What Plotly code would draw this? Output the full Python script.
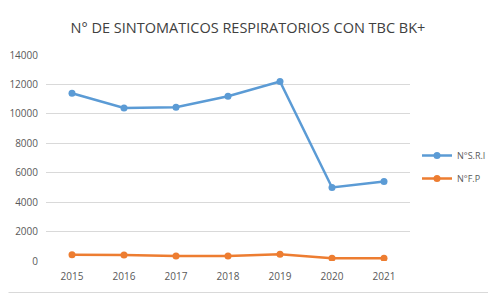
import plotly.graph_objects as go

years = ["2015", "2016", "2017", "2018", "2019", "2020", "2021"]
sri = [11400, 10400, 10450, 11200, 12200, 5000, 5400]
fp = [420, 410, 340, 340, 460, 190, 180]
y_ticks = [0, 2000, 4000, 6000, 8000, 10000, 12000, 14000]

OFF = 8  # page body margin
W, H = 500 - OFF, 300 - OFF
L, R, T, B = 46 - OFF, 90, 55 - OFF, 39
pw, ph = W - L - R, H - T - B

def px(x):
    return (x - OFF - L) / pw

def py(y):
    return (H - B - (y - OFF)) / ph

FONT = "Open Sans, sans-serif"

fig = go.Figure()
fig.add_trace(go.Scatter(x=years, y=sri, name="N°S.R.I", mode="lines+markers",
                         legendgroup="a",
                         line=dict(color="#5B9BD5", width=2.5),
                         marker=dict(size=7, color="#5B9BD5")))
fig.add_trace(go.Scatter(x=years, y=fp, name="N°F.P", mode="lines+markers",
                         legendgroup="b",
                         line=dict(color="#ED7D31", width=2.5),
                         marker=dict(size=7, color="#ED7D31")))

border = "#D9D9D9"
shapes = [
    dict(type="line", xref="paper", yref="paper", x0=px(8.5), x1=px(488), y0=py(292.5), y1=py(292.5),
         line=dict(color=border, width=1)),
]

fig.update_layout(
    width=W, height=H,
    margin=dict(l=L, r=R, t=T, b=B, autoexpand=False),
    paper_bgcolor="white", plot_bgcolor="white",
    font=dict(family=FONT, color="#595959"),
    title=dict(text="N° DE SINTOMATICOS RESPIRATORIOS CON TBC BK+",
               x=(248 - OFF) / W, xref="container", xanchor="center",
               y=1 - (28 - OFF) / H, yanchor="middle",
               font=dict(size=14.5, color="#404040", family=FONT)),
    xaxis=dict(type="category", range=[-0.5, 6.5], showgrid=False, zeroline=False,
               showline=False, ticks="", automargin=False, ticklabelstandoff=8,
               tickfont=dict(size=10, color="#595959")),
    yaxis=dict(range=[0, 14000], tickvals=y_ticks, ticktext=[str(v) for v in y_ticks],
               showgrid=True, gridcolor="#D9D9D9", gridwidth=1, zeroline=False,
               showline=False, ticks="", automargin=False, ticklabelstandoff=7,
               tickfont=dict(size=10, color="#595959")),
    legend=dict(x=px(417), y=py(141), xanchor="left", yanchor="top",
                font=dict(size=9, color="#595959"), itemwidth=30, tracegroupgap=4,
                bgcolor="rgba(0,0,0,0)"),
    shapes=shapes,
    showlegend=True,
)

fig.write_html("out.html")
